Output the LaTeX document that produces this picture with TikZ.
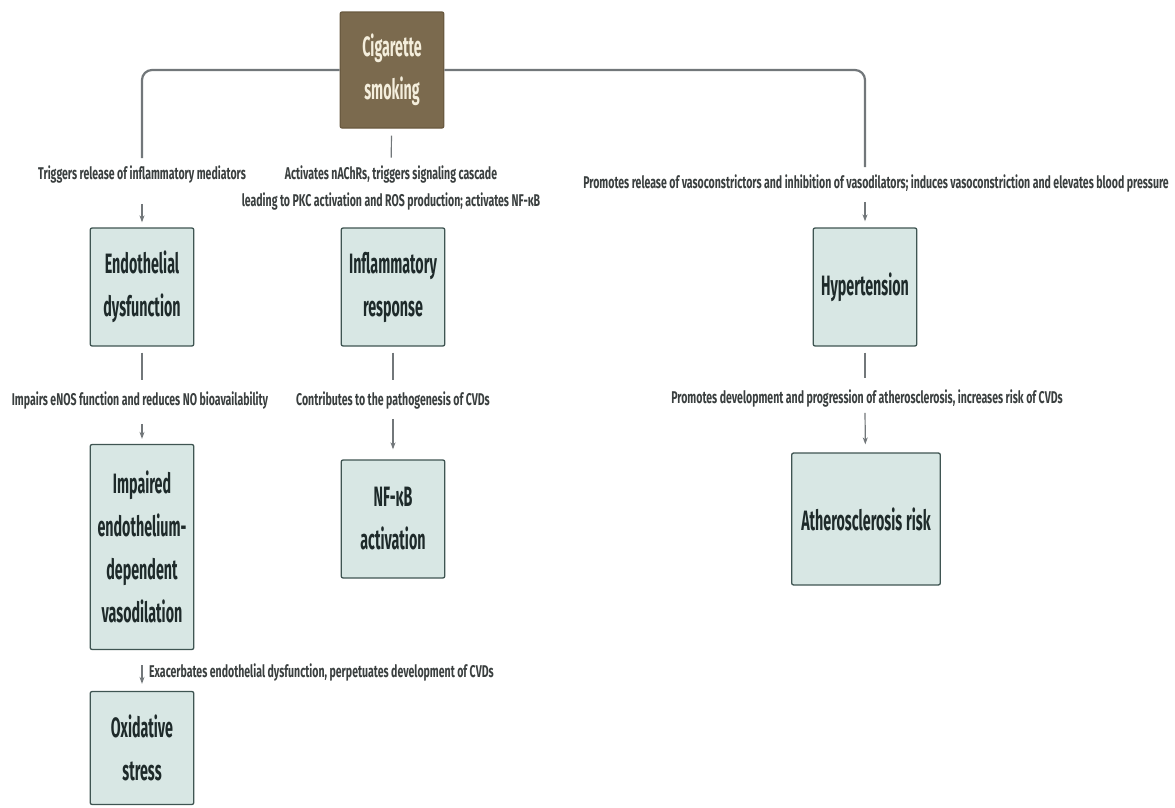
\documentclass[tikz,border=0pt]{standalone}
\usepackage{fontspec}
\setmainfont{Fira Sans}[FakeStretch=0.62]
\newfontfamily\boxfont{Fira Sans}[FakeStretch=0.51]
\usetikzlibrary{arrows.meta}

\definecolor{smokebrown}{HTML}{7B6A4E}
\definecolor{smokeedge}{HTML}{6A5A40}
\definecolor{smoketext}{HTML}{F4EEDC}
\definecolor{boxfill}{HTML}{D8E7E4}
\definecolor{boxedge}{HTML}{3F5552}
\definecolor{boxtext}{HTML}{1E2A2A}
\definecolor{labeltext}{HTML}{3A3F3F}
\definecolor{linkgray}{HTML}{72777A}

\begin{document}
\begin{tikzpicture}[x=1pt, y=-1pt, >={Stealth[length=7pt,width=5pt]},
   effect/.style={rectangle, draw=boxedge, fill=boxfill, line width=1.3pt, rounded corners=2pt,
      minimum width=103pt, minimum height=118pt, text width=97pt, align=center, text=boxtext,
      font=\boxfont\bfseries\fontsize{28}{43}\selectfont},
   cause/.style={effect, draw=smokeedge, fill=smokebrown, text=smoketext, minimum height=116pt},
   why/.style={font=\bfseries\fontsize{17}{27}\selectfont, text=labeltext, inner sep=3pt, align=center},
   link/.style={draw=linkgray, line width=1.2pt},
   branch/.style={draw=linkgray, line width=2.2pt, rounded corners=10pt}]
   \useasboundingbox (0,0) rectangle (1175,807);

   \node (smoking) at (392,70) [cause] {Cigarette\\smoking};
   \node (endo) at (142,287) [effect] {Endothelial\\dysfunction};
   \node (inflam) at (393,287) [effect] {Inflammatory\\response};
   \node (hyper) at (865,287) [effect] {Hypertension};
   \node (impaired) at (142,547) [effect, minimum height=205pt] {Impaired\\endothelium-\\dependent\\vasodilation};
   \node (nfkb) at (393,519) [effect] {NF-κB\\activation};
   \node (athero) at (866,519) [effect, minimum width=148pt, minimum height=132pt, text width=142pt] {Atherosclerosis\kern4pt risk};
   \node (oxid) at (142,748) [effect, minimum height=113pt] {Oxidative\\stress};

   \node (trig) at (142,174) [why] {Triggers release of inflammatory mediators};
   \node (nachr) at (391,188) [why] {Activates nAChRs, triggers signaling cascade\\leading to PKC activation and ROS production; activates NF-κB};
   \node (vaso) at (876,183) [why] {Promotes release of vasoconstrictors and inhibition of vasodilators; induces vasoconstriction and elevates blood pressure};
   \node (enos) at (140,400) [why] {Impairs eNOS function and reduces NO bioavailability};
   \node (patho) at (393,400) [why] {Contributes to the pathogenesis of CVDs};
   \node (progr) at (867,398) [why] {Promotes development and progression of atherosclerosis, increases risk of CVDs};
   \node (exac) at (146,672) [why, anchor=west] {Exacerbates endothelial dysfunction, perpetuates development of CVDs};

   \draw[branch, shorten >=4pt] (smoking.west) -| (trig.north -| endo.north);
   \draw[branch, shorten >=4pt] (smoking.east) -| (hyper.north |- vaso.north);
   \draw[link, shorten <=7pt, shorten >=5pt] (smoking) -- (nachr);
   \draw[link, ->, shorten <=18pt, shorten >=5pt] (trig.south -| endo.north) -- (endo.north);
   \draw[link, ->, shorten <=7pt, shorten >=6pt] (hyper.north |- vaso.south) -- (hyper.north);
   \draw[link, shorten <=6pt, shorten >=8pt] (endo) -- (enos.north -| endo.south);
   \draw[link, ->, shorten <=12pt, shorten >=5pt] (enos.south -| endo.south) -- (impaired);
   \draw[link, shorten <=6pt, shorten >=8pt] (inflam) -- (patho);
   \draw[link, ->, shorten <=7pt, shorten >=10pt] (patho) -- (nfkb);
   \draw[link, shorten <=6pt, shorten >=8pt] (hyper) -- (progr.north -| hyper.south);
   \draw[link, ->, shorten <=3pt, shorten >=8pt] (progr.south -| hyper.south) -- (athero);
   \draw[link, ->, shorten <=15pt, shorten >=7pt] (impaired) -- (oxid);
\end{tikzpicture}
\end{document}
